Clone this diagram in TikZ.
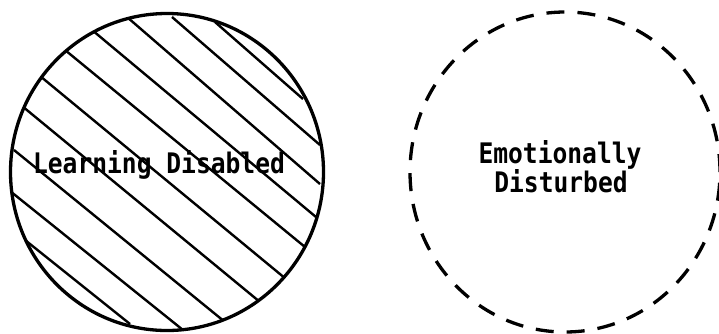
\documentclass[tikz,border=0pt]{standalone}
\usepackage{fontspec}
\setmonofont{DejaVu Sans Mono}
\usetikzlibrary{shapes.geometric}
\newcommand{\tallt}[1]{\scalebox{1}[1.15]{#1}}
\begin{document}
\begin{tikzpicture}[x=1pt,y=-1pt,
  circ/.style={ellipse, draw=black, line width=3.3pt, inner sep=0pt},
  hatch/.style={draw=black, line width=2.4pt},
  lbl/.style={font=\ttfamily\bfseries\fontsize{24.6}{29}\selectfont, inner sep=0pt, anchor=base}]
\useasboundingbox (0,0) rectangle (719,333);
\fill[white] (0,0) rectangle (719,333);
% hatch lines of the left circle
\begin{scope}
\clip (167,172) ellipse [x radius=156, y radius=158];
\coordinate (a1) at (172,17);  \coordinate (a2) at (320,145);
\coordinate (b1) at (127,17);  \coordinate (b2) at (320,184);
\coordinate (c1) at (92,30);   \coordinate (c2) at (316,217);
\coordinate (d1) at (65,50);   \coordinate (d2) at (305,247);
\coordinate (e1) at (40,76);   \coordinate (e2) at (286,279);
\coordinate (f1) at (22,106);  \coordinate (f2) at (260,302);
\coordinate (g1) at (14,150);  \coordinate (g2) at (225,322);
\coordinate (h1) at (10,191);  \coordinate (h2) at (183,330);
\coordinate (i1) at (25,240);  \coordinate (i2) at (130,324);
\coordinate (j1) at (215,22);  \coordinate (j2) at (303,99);
\foreach \p in {a,b,c,d,e,f,g,h,i,j}
  \draw[hatch] (\p1) -- (\p2);
\end{scope}
\node[circ, minimum width=313, minimum height=317] (ld) at (167,172) {};
\node[circ, dash pattern=on 18pt off 13pt, minimum width=310, minimum height=320] (ed) at (565,172) {};
\node[lbl] (ldt) at (159,173) {\tallt{Learning Disabled}};
\node[lbl] (edt1) at (560,163) {\tallt{Emotionally}};
\node[lbl] (edt2) at (561,192) {\tallt{Disturbed}};
\end{tikzpicture}
\end{document}
